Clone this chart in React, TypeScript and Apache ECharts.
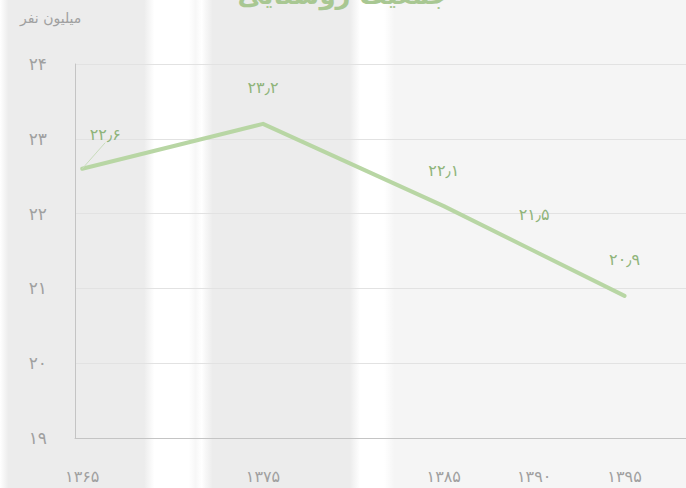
import React, { useEffect, useRef } from "react";
import * as echarts from "echarts";

const years = [1365, 1375, 1385, 1390, 1395];
const population = [22.6, 23.2, 22.1, 21.5, 20.9];
const yTicks = [19, 20, 21, 22, 23, 24];

const FA = "۰۱۲۳۴۵۶۷۸۹";
const fa = (v: number | string) =>
  String(v).replace(/[0-9]/g, (d) => FA[+d]).replace(".", "٫");

const FONT = "DejaVu Sans";

export default function App() {
  const ref = useRef<HTMLDivElement>(null);
  useEffect(() => {
    document.body.style.margin = "0";
    const chart = echarts.init(ref.current!, null, { renderer: "svg" });
    const option: any = {
      animation: false,
      backgroundColor: "#ffffff",
      graphic: [
        {
          type: "rect",
          z: -10,
          silent: true,
          shape: { x: 0, y: 0, width: 686, height: 488 },
          style: {
            fill: new echarts.graphic.LinearGradient(0, 0, 1, 0, [
              { offset: 0, color: "#ffffff" },
              { offset: 0.012, color: "#ececec" },
              { offset: 0.21, color: "#ececec" },
              { offset: 0.225, color: "#ffffff" },
              { offset: 0.275, color: "#ffffff" },
              { offset: 0.285, color: "#f7f7f7" },
              { offset: 0.294, color: "#ffffff" },
              { offset: 0.3, color: "#f7f7f7" },
              { offset: 0.31, color: "#ececec" },
              { offset: 0.51, color: "#ececec" },
              { offset: 0.525, color: "#ffffff" },
              { offset: 0.56, color: "#ffffff" },
              { offset: 0.575, color: "#f5f5f5" },
              { offset: 1, color: "#f5f5f5" },
            ]),
          },
        },
        {
          type: "text",
          left: "center",
          top: -18,
          z: 10,
          style: {
            text: "جمعیت روستایی",
            fill: "#a8c792",
            font: `bold 26px "${FONT}"`,
          },
        },
        {
          type: "text",
          left: 20,
          top: 11,
          z: 10,
          style: {
            text: "میلیون نفر",
            fill: "#a0a0a0",
            font: `14px "${FONT}"`,
          },
        },
      ],
      grid: { left: 75, right: 0, top: 64, bottom: 50, containLabel: false },
      xAxis: {
        type: "value",
        min: 1364.6,
        max: 1398.4,
        axisLine: { show: true, lineStyle: { color: "#c4c4c4", width: 1 } },
        axisTick: { show: false },
        splitLine: { show: false },
        axisLabel: {
          customValues: years,
          margin: 30,
          color: "#a0a0a0",
          fontFamily: FONT,
          fontSize: 16,
          formatter: (v: number) => fa(v),
        },
      },
      yAxis: {
        type: "value",
        min: yTicks[0],
        max: yTicks[yTicks.length - 1],
        interval: 1,
        axisLine: { show: true, lineStyle: { color: "#c4c4c4", width: 1 } },
        axisTick: { show: false },
        splitLine: { show: true, lineStyle: { color: "#e2e2e2", width: 1 } },
        axisLabel: {
          margin: 28,
          color: "#a0a0a0",
          fontFamily: FONT,
          fontSize: 17,
          formatter: (v: number) => fa(v),
        },
      },
      series: [
        {
          type: "line",
          data: years.map((y, i) =>
            i === 0
              ? { value: [y, population[i]], labelLine: { show: true } }
              : { value: [y, population[i]] }
          ),
          symbol: "circle",
          symbolSize: 0.1,
          itemStyle: { color: "#b8d6a4" },
          lineStyle: { color: "#b8d6a4", width: 4, cap: "round", join: "round" },
          label: {
            show: true,
            position: "top",
            distance: 28,
            color: "#8fb47a",
            fontFamily: FONT,
            fontSize: 16,
            formatter: (p: any) => fa(p.value[1]),
          },
          labelLine: { show: false, lineStyle: { color: "#c9dcbc", width: 1 } },
          labelLayout: (p: any) =>
            p.dataIndex === 0 ? { dx: 23, dy: 2 } : {},
        },
      ],
    };
    chart.setOption(option);
    return () => chart.dispose();
  }, []);
  return (
    <div
      ref={ref}
      style={{ position: "absolute", left: 0, top: 0, width: 686, height: 488 }}
    />
  );
}
